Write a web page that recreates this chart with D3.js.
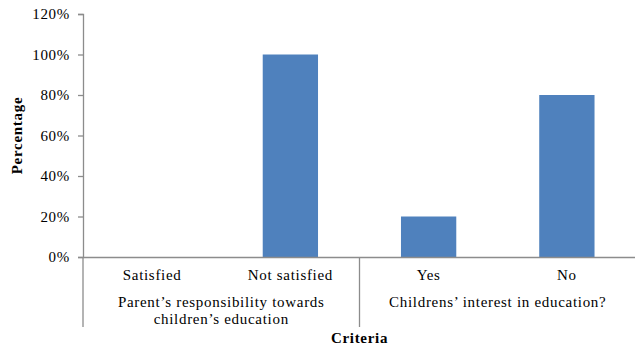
<!DOCTYPE html>
<html>
<head>
<meta charset="utf-8">
<script src="https://cdn.jsdelivr.net/npm/d3@7/dist/d3.min.js"></script>
<style>
  html, body { margin: 0; padding: 0; background: #fff; }
  svg { display: block; }
  text { font-family: "Liberation Serif", "Times New Roman", serif; fill: #000; }
</style>
</head>
<body>
<svg id="chart" width="635" height="350"></svg>
<script>
// Survey responses, grouped by question
const categories = ["Satisfied", "Not satisfied", "Yes", "No"];
const values = [0, 100, 20, 80];
const groups = [
  { lines: ["Parent\u2019s responsibility towards", "children\u2019s education"], from: 0, to: 2 },
  { lines: ["Childrens\u2019 interest in education?"], from: 2, to: 4 }
];
const yTicks = [0, 20, 40, 60, 80, 100, 120];

const svg = d3.select("#chart");
const plotLeft = 83, plotRight = 636, plotTop = 14, plotBottom = 257;

const x = d3.scaleBand().domain(categories).range([plotLeft, plotRight]).paddingInner(0).paddingOuter(0);
const y = d3.scaleLinear().domain([0, 120]).range([plotBottom, plotTop]);

const axisColor = "#8c8c8c";
const fontSize = 15;
const spacing = "0.7px";

function styleText(sel) {
  sel.style("font-family", "'Liberation Serif', 'Times New Roman', serif")
    .style("font-size", fontSize + "px")
    .style("letter-spacing", spacing)
    .attr("fill", "#000");
}

// Bars
const barW = x.bandwidth() / 2.5;
svg.append("g").selectAll("rect")
  .data(categories.map((c, i) => ({ c, v: values[i] })))
  .join("rect")
  .attr("x", d => x(d.c) + (x.bandwidth() - barW) / 2)
  .attr("width", barW)
  .attr("y", d => y(d.v))
  .attr("height", d => plotBottom - y(d.v))
  .attr("fill", "#4f81bd");

// Y axis
const yAxis = svg.append("g")
  .attr("transform", `translate(${plotLeft},0)`)
  .call(d3.axisLeft(y).tickValues(yTicks).tickFormat(d => d + "%").tickSize(5).tickPadding(8));
yAxis.select(".domain").attr("stroke", axisColor).attr("stroke-width", 1.3);
yAxis.selectAll(".tick line").attr("stroke", axisColor).attr("stroke-width", 1.3);
yAxis.selectAll(".tick text").call(styleText);

// X axis baseline
const xAxis = svg.append("g")
  .attr("transform", `translate(0,${plotBottom})`)
  .call(d3.axisBottom(x).tickSize(0).tickPadding(0));
xAxis.select(".domain").attr("stroke", axisColor).attr("stroke-width", 1.3);
xAxis.selectAll(".tick text")
  .call(styleText)
  .attr("dy", null)
  .attr("y", 23);

// Group separators
const sepXs = [x(categories[0]), x(categories[2])];
svg.append("g").selectAll("line")
  .data(sepXs)
  .join("line")
  .attr("x1", d => d).attr("x2", d => d)
  .attr("y1", plotBottom).attr("y2", 327)
  .attr("stroke", axisColor).attr("stroke-width", 1.3);

// Group labels
groups.forEach(g => {
  const cx = (x(categories[g.from]) + x(categories[g.to - 1]) + x.bandwidth()) / 2;
  const t = svg.append("text")
    .attr("x", cx)
    .attr("y", 307)
    .attr("text-anchor", "middle")
    .call(styleText);
  g.lines.forEach((ln, i) => {
    t.append("tspan").attr("x", cx).attr("dy", i === 0 ? 0 : 17).text(ln);
  });
});

// Axis titles
svg.append("text")
  .attr("x", (plotLeft + plotRight) / 2).attr("y", 343)
  .attr("text-anchor", "middle")
  .call(styleText)
  .style("font-weight", "bold")
  .text("Criteria");

svg.append("text")
  .attr("transform", `translate(22,${(plotTop + plotBottom) / 2}) rotate(-90)`)
  .attr("text-anchor", "middle")
  .call(styleText)
  .style("font-weight", "bold")
  .text("Percentage");
</script>
</body>
</html>
